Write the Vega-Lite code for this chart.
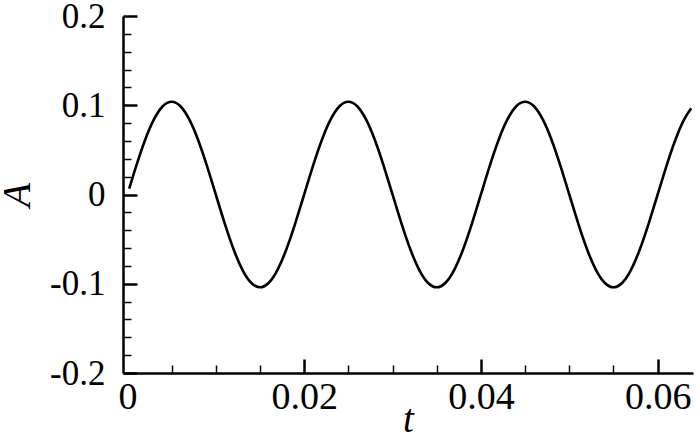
{
  "$schema": "https://vega.github.io/schema/vega-lite/v6.json",
  "autosize": {"type": "none"},
  "width": 570,
  "height": 357,
  "padding": {"left": 123, "top": 16, "right": 7, "bottom": 62},
  "background": "white",
  "config": {
    "view": {"stroke": null},
    "axis": {
      "grid": false,
      "domainColor": "black",
      "domainWidth": 2.5,
      "tickColor": "black",
      "labelColor": "black",
      "titleColor": "black",
      "labelFont": "Liberation Serif",
      "titleFont": "Liberation Serif",
      "labelFontWeight": "normal",
      "titleFontWeight": "normal",
      "titleFontStyle": "italic"
    }
  },
  "data": {
    "values": [
      {"t": 0.0002, "A": 0.0065},
      {"t": 0.001, "A": 0.0321},
      {"t": 0.002, "A": 0.0611},
      {"t": 0.003, "A": 0.0841},
      {"t": 0.004, "A": 0.0989},
      {"t": 0.005, "A": 0.104},
      {"t": 0.006, "A": 0.0989},
      {"t": 0.007, "A": 0.0841},
      {"t": 0.008, "A": 0.0611},
      {"t": 0.009, "A": 0.0321},
      {"t": 0.010, "A": 0},
      {"t": 0.011, "A": -0.0321},
      {"t": 0.012, "A": -0.0611},
      {"t": 0.013, "A": -0.0841},
      {"t": 0.014, "A": -0.0989},
      {"t": 0.015, "A": -0.104},
      {"t": 0.016, "A": -0.0989},
      {"t": 0.017, "A": -0.0841},
      {"t": 0.018, "A": -0.0611},
      {"t": 0.019, "A": -0.0321},
      {"t": 0.020, "A": 0},
      {"t": 0.021, "A": 0.0321},
      {"t": 0.022, "A": 0.0611},
      {"t": 0.023, "A": 0.0841},
      {"t": 0.024, "A": 0.0989},
      {"t": 0.025, "A": 0.104},
      {"t": 0.026, "A": 0.0989},
      {"t": 0.027, "A": 0.0841},
      {"t": 0.028, "A": 0.0611},
      {"t": 0.029, "A": 0.0321},
      {"t": 0.030, "A": 0},
      {"t": 0.031, "A": -0.0321},
      {"t": 0.032, "A": -0.0611},
      {"t": 0.033, "A": -0.0841},
      {"t": 0.034, "A": -0.0989},
      {"t": 0.035, "A": -0.104},
      {"t": 0.036, "A": -0.0989},
      {"t": 0.037, "A": -0.0841},
      {"t": 0.038, "A": -0.0611},
      {"t": 0.039, "A": -0.0321},
      {"t": 0.040, "A": 0},
      {"t": 0.041, "A": 0.0321},
      {"t": 0.042, "A": 0.0611},
      {"t": 0.043, "A": 0.0841},
      {"t": 0.044, "A": 0.0989},
      {"t": 0.045, "A": 0.104},
      {"t": 0.046, "A": 0.0989},
      {"t": 0.047, "A": 0.0841},
      {"t": 0.048, "A": 0.0611},
      {"t": 0.049, "A": 0.0321},
      {"t": 0.050, "A": 0},
      {"t": 0.051, "A": -0.0321},
      {"t": 0.052, "A": -0.0611},
      {"t": 0.053, "A": -0.0841},
      {"t": 0.054, "A": -0.0989},
      {"t": 0.055, "A": -0.104},
      {"t": 0.056, "A": -0.0989},
      {"t": 0.057, "A": -0.0841},
      {"t": 0.058, "A": -0.0611},
      {"t": 0.059, "A": -0.0321},
      {"t": 0.060, "A": 0},
      {"t": 0.061, "A": 0.0321},
      {"t": 0.062, "A": 0.0611},
      {"t": 0.063, "A": 0.0841},
      {"t": 0.0638, "A": 0.0967}
    ]
  },
  "layer": [
    {
      "mark": {"type": "line", "strokeOpacity": 0},
      "encoding": {
        "x": {
          "field": "t", "type": "quantitative",
          "scale": {"domain": [-0.0005, 0.064], "nice": false, "zero": false},
          "axis": {
            "orient": "bottom", "title": null, "labels": false, "domain": false,
            "values": [0.005, 0.01, 0.015, 0.025, 0.03, 0.035, 0.045, 0.05, 0.055],
            "tickSize": -8, "tickWidth": 1.5
          }
        },
        "y": {
          "field": "A", "type": "quantitative",
          "scale": {"domain": [-0.2, 0.2], "nice": false, "zero": false},
          "axis": {
            "orient": "left", "title": null, "labels": false, "domain": false,
            "values": [-0.18, -0.16, -0.14, -0.12, -0.08, -0.06, -0.04, -0.02, 0.02, 0.04, 0.06, 0.08, 0.12, 0.14, 0.16, 0.18],
            "tickSize": -8, "tickWidth": 1.5
          }
        }
      }
    },
    {
      "mark": {"type": "line", "color": "black", "strokeWidth": 2.6, "interpolate": "natural"},
      "encoding": {
        "x": {
          "field": "t", "type": "quantitative",
          "axis": {
            "orient": "bottom", "title": "t",
            "values": [0, 0.02, 0.04, 0.06],
            "labelExpr": "'' + datum.value",
            "tickSize": -14, "tickWidth": 2.5,
            "tickOpacity": {"condition": {"test": "datum.value == 0", "value": 0}, "value": 1},
            "labelFontSize": 38, "labelPadding": 19, "labelBaseline": "top",
            "titleFontSize": 39, "titlePadding": -16
          }
        },
        "y": {
          "field": "A", "type": "quantitative",
          "axis": {
            "orient": "left", "title": "A",
            "values": [-0.2, -0.1, 0, 0.1, 0.2],
            "labelExpr": "'' + datum.value",
            "tickSize": -14, "tickWidth": 2.5,
            "labelFontSize": 35, "labelPadding": 32,
            "titleFontSize": 40, "titlePadding": 12
          }
        }
      }
    }
  ],
  "resolve": {"axis": {"x": "independent", "y": "independent"}}
}
